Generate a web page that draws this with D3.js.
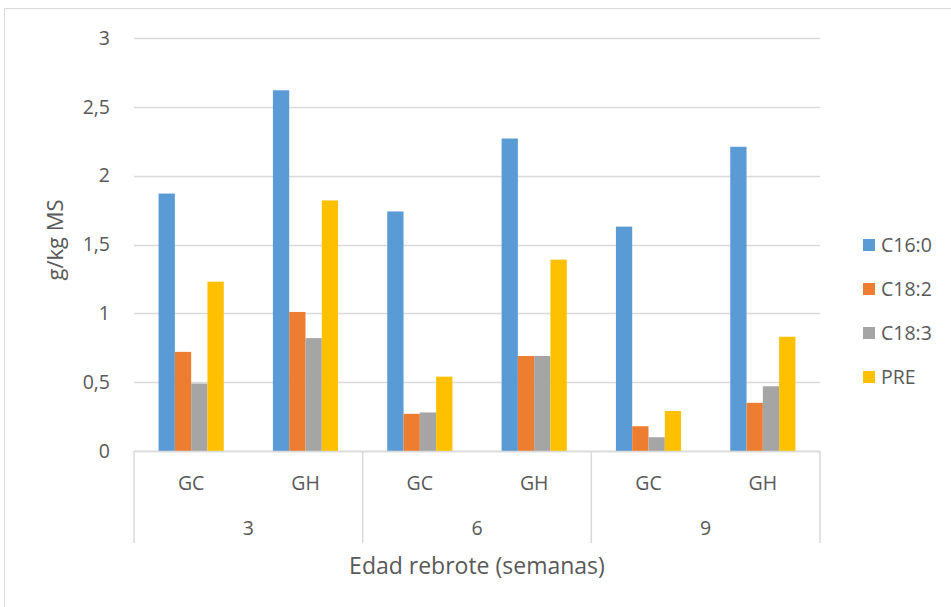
<!DOCTYPE html>
<html>
<head>
<meta charset="utf-8">
<script src="https://cdn.jsdelivr.net/npm/d3@7"></script>
<style>
  html, body { margin: 0; padding: 0; background: #fff; overflow: hidden; }
  svg { display: block; }
  text { font-family: "Open Sans", "Noto Sans", sans-serif; fill: #595959; }
</style>
</head>
<body>
<svg id="chart"></svg>
<script>
// data
const weeks = ["3", "6", "9"];
const groups = ["GC", "GH"];
const series = ["C16:0", "C18:2", "C18:3", "PRE"];
const colors = ["#5B9BD5", "#ED7D31", "#A5A5A5", "#FFC000"];
const c160 = [1.87, 2.62, 1.74, 2.27, 1.63, 2.21];
const c182 = [0.72, 1.01, 0.27, 0.69, 0.18, 0.35];
const c183 = [0.49, 0.82, 0.28, 0.69, 0.10, 0.47];
const pre  = [1.23, 1.82, 0.54, 1.39, 0.29, 0.83];
const yTicks = [0, 0.5, 1, 1.5, 2, 2.5, 3];

const width = 951;
const height = 607;
const margin = { top: 38, right: 131, bottom: 156, left: 134 };
const innerWidth = width - margin.left - margin.right;
const innerHeight = height - margin.top - margin.bottom;

const svg = d3.select("#chart")
    .attr("width", width)
    .attr("height", height);

// chart border (only top and left edges are inside the picture)
svg.append("path")
    .attr("d", "M4.5," + height + "V8.5H" + width)
    .attr("fill", "none")
    .attr("stroke", "#D9D9D9");

const g = svg.append("g")
    .attr("transform", "translate(" + margin.left + "," + margin.top + ")");

// one slot per week/group pair
const slots = [];
weeks.forEach(w => groups.forEach(gr => slots.push(w + "|" + gr)));

const x0 = d3.scaleBand()
    .domain(slots)
    .range([0, innerWidth])
    .paddingInner(0.43)
    .paddingOuter(0.215);

const x1 = d3.scaleBand()
    .domain(series)
    .range([0, x0.bandwidth()]);

const y = d3.scaleLinear()
    .domain([0, 3])
    .range([innerHeight, 0]);

// gridlines
g.selectAll(".grid")
    .data(yTicks)
    .enter()
    .append("line")
    .attr("x1", 0)
    .attr("x2", innerWidth)
    .attr("y1", d => Math.round(y(d)) + 0.5)
    .attr("y2", d => Math.round(y(d)) + 0.5)
    .attr("stroke", "#D9D9D9")
    .attr("stroke-width", 1.5);

// y tick labels
g.selectAll(".y-tick")
    .data(yTicks)
    .enter()
    .append("text")
    .attr("x", -24)
    .attr("y", d => y(d))
    .attr("dy", "0.35em")
    .style("text-anchor", "end")
    .style("font-size", "19.5px")
    .text(d => String(d).replace(".", ","));

// bars
const values = [c160, c182, c183, pre];
const rows = slots.map((s, i) => ({ slot: s, vals: series.map((k, j) => ({ key: k, v: values[j][i], c: colors[j] })) }));

g.selectAll(".slot")
    .data(rows)
    .enter()
    .append("g")
    .attr("transform", d => "translate(" + x0(d.slot) + ",0)")
    .selectAll("rect")
    .data(d => d.vals)
    .enter()
    .append("rect")
    .attr("x", d => x1(d.key))
    .attr("y", d => y(d.v))
    .attr("width", x1.bandwidth())
    .attr("height", d => innerHeight - y(d.v))
    .attr("fill", d => d.c);

// category axis: baseline and dividers
const step = innerWidth / weeks.length;
g.append("line")
    .attr("x1", 0).attr("x2", innerWidth)
    .attr("y1", innerHeight + 0.5).attr("y2", innerHeight + 0.5)
    .attr("stroke", "#D9D9D9").attr("stroke-width", 1.5);

g.selectAll(".divider")
    .data(d3.range(weeks.length + 1))
    .enter()
    .append("line")
    .attr("x1", d => d * step)
    .attr("x2", d => d * step)
    .attr("y1", innerHeight)
    .attr("y2", innerHeight + 92)
    .attr("stroke", "#D9D9D9")
    .attr("stroke-width", 1.5);

// group labels
g.selectAll(".grp")
    .data(slots)
    .enter()
    .append("text")
    .attr("x", d => x0(d) + x0.bandwidth() / 2)
    .attr("y", innerHeight + 32)
    .attr("dy", "0.35em")
    .style("text-anchor", "middle")
    .style("font-size", "19.5px")
    .text(d => d.split("|")[1]);

// week labels
g.selectAll(".wk")
    .data(weeks)
    .enter()
    .append("text")
    .attr("x", (d, i) => i * step + step / 2)
    .attr("y", innerHeight + 77)
    .attr("dy", "0.35em")
    .style("text-anchor", "middle")
    .style("font-size", "19.5px")
    .text(d => d);

// axis titles
g.append("text")
    .attr("x", innerWidth / 2)
    .attr("y", innerHeight + 115)
    .attr("dy", "0.35em")
    .style("text-anchor", "middle")
    .style("font-size", "23px")
    .text("Edad rebrote (semanas)");

g.append("text")
    .attr("transform", "rotate(-90)")
    .attr("x", -(240 - margin.top))
    .attr("y", 55 - margin.left)
    .attr("dy", "0.35em")
    .style("text-anchor", "middle")
    .style("font-size", "22px")
    .text("g/kg MS");

// legend
const legend = svg.selectAll(".legend")
    .data(series)
    .enter()
    .append("g")
    .attr("transform", (d, i) => "translate(863," + (245 + i * 44) + ")");

legend.append("rect")
    .attr("x", 0).attr("y", -6)
    .attr("width", 12).attr("height", 12)
    .attr("fill", (d, i) => colors[i]);

legend.append("text")
    .attr("x", 18)
    .attr("y", 0)
    .attr("dy", "0.35em")
    .style("font-size", "19.5px")
    .text(d => d);
</script>
</body>
</html>
